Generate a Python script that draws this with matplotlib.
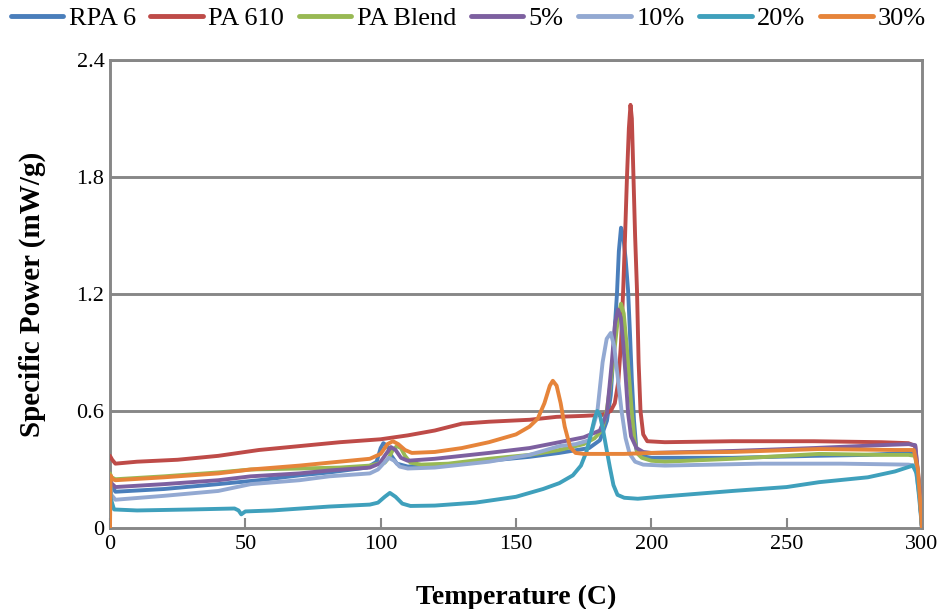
import matplotlib
matplotlib.use("Agg")
import matplotlib.pyplot as plt

# ---------------- data ----------------
series_names = ["RPA 6", "PA 610", "PA Blend", "5%", "10%", "20%", "30%"]

rpa6_T = [0, 0.5, 2, 20, 40, 55, 70, 81, 95, 98.5, 100, 101, 102.5, 104, 106, 110, 120, 140,
          155, 166, 177, 181, 183.6, 185, 185.8, 186.6, 187.3, 188, 188.8, 189.6, 190.5, 191.4,
          192.1, 192.8, 193.6, 194.5, 196, 200, 230, 260, 280, 295, 297.5, 299, 300]
rpa6_P = [0.27, 0.22, 0.186, 0.2, 0.225, 0.245, 0.27, 0.285, 0.31, 0.34, 0.41, 0.435, 0.42, 0.37,
          0.33, 0.315, 0.32, 0.345, 0.365, 0.385, 0.41, 0.45, 0.55, 0.68, 0.85, 1.05, 1.2, 1.42,
          1.54, 1.5, 1.38, 1.22, 1.0, 0.76, 0.55, 0.4, 0.37, 0.36, 0.36, 0.37, 0.375, 0.385, 0.38,
          0.2, 0.0]

pa610_T = [0, 0.8, 2, 10, 25, 40, 55, 70, 85, 100, 110, 120, 130, 140, 155, 165, 175, 182, 185,
           186.5, 187.8, 188.8, 189.6, 190.3, 191, 191.7, 192.3, 192.8, 193.3, 194, 194.7, 195.3,
           196, 197, 198.5, 205, 230, 260, 285, 295, 297.5, 299, 300]
pa610_P = [0.37, 0.35, 0.33, 0.34, 0.35, 0.37, 0.40, 0.42, 0.44, 0.455, 0.475, 0.50, 0.535, 0.545,
           0.555, 0.57, 0.575, 0.58, 0.6, 0.64, 0.75, 0.95, 1.22, 1.5, 1.8, 2.05, 2.17, 2.1, 1.85,
           1.5, 1.22, 0.85, 0.6, 0.48, 0.445, 0.44, 0.445, 0.445, 0.44, 0.435, 0.42, 0.2, 0.0]

blend_T = [0, 0.5, 2, 20, 40, 52, 70, 85, 96, 99, 101.5, 103, 104.5, 106, 107.5, 109, 111, 115,
           125, 140, 155, 166, 175, 179, 181.7, 183.5, 185, 186.5, 187.7, 188.8, 189.8, 190.8,
           191.8, 192.8, 193.8, 195, 196.5, 200, 205, 230, 262, 285, 295, 297.5, 299, 300]
blend_P = [0.28, 0.26, 0.25, 0.265, 0.285, 0.30, 0.305, 0.31, 0.32, 0.33, 0.335, 0.36, 0.40, 0.42,
           0.41, 0.37, 0.335, 0.325, 0.33, 0.355, 0.375, 0.40, 0.43, 0.46, 0.5, 0.6, 0.75, 0.93,
           1.08, 1.15, 1.1, 0.95, 0.77, 0.59, 0.45, 0.38, 0.36, 0.345, 0.34, 0.355, 0.38, 0.375,
           0.375, 0.37, 0.2, 0.0]

p5_T = [0, 0.5, 2, 20, 40, 52, 70, 81, 96, 99.5, 101.5, 103.8, 105.5, 107.5, 110, 120, 140, 155,
        166, 175, 181, 183.6, 185.4, 186.6, 187.7, 188.7, 189.6, 190.5, 191.4, 192.5, 194.5, 197,
        200, 230, 260, 285, 295, 297.5, 299, 300]
p5_P = [0.25, 0.23, 0.21, 0.225, 0.245, 0.265, 0.28, 0.295, 0.31, 0.33, 0.37, 0.415, 0.40, 0.36,
        0.345, 0.355, 0.385, 0.41, 0.44, 0.465, 0.5, 0.59, 0.85, 1.05, 1.12, 1.08, 0.95, 0.78,
        0.59, 0.47, 0.41, 0.39, 0.385, 0.395, 0.41, 0.425, 0.43, 0.425, 0.22, 0.0]

p10_T = [0, 0.5, 2, 20, 40, 52, 70, 81, 96, 99, 101, 103, 105, 107, 110, 120, 140, 155, 166, 172,
         177, 180, 182, 183.5, 185, 186.3, 187.7, 189, 190.5, 192, 194, 197, 205, 240, 270, 295,
         297.5, 299, 300]
p10_P = [0.22, 0.17, 0.145, 0.165, 0.19, 0.225, 0.245, 0.265, 0.28, 0.30, 0.33, 0.36, 0.345, 0.315,
         0.305, 0.31, 0.34, 0.375, 0.42, 0.43, 0.45, 0.59, 0.85, 0.97, 1.0, 0.93, 0.76, 0.6, 0.46,
         0.38, 0.34, 0.325, 0.32, 0.33, 0.33, 0.325, 0.32, 0.17, 0.0]

p20_T = [0, 0.3, 1.5, 10, 30, 46, 47.5, 48.5, 50, 60, 81, 96, 99, 101.5, 103.4, 105.5, 108, 111,
         120, 135, 150, 160, 166, 171, 174, 176, 177.5, 179, 180, 181, 182.2, 183.5, 184.7, 186,
         187.5, 190, 195, 203, 230, 250, 262, 280, 290, 296.6, 298, 299, 300]
p20_P = [0.25, 0.15, 0.095, 0.09, 0.095, 0.1, 0.09, 0.07, 0.085, 0.09, 0.11, 0.12, 0.13, 0.16, 0.18,
         0.16, 0.125, 0.113, 0.115, 0.13, 0.16, 0.2, 0.23, 0.27, 0.32, 0.39, 0.47, 0.56, 0.6, 0.58,
         0.5, 0.4, 0.31, 0.22, 0.17, 0.155, 0.15, 0.16, 0.19, 0.21, 0.235, 0.26, 0.29, 0.32, 0.28,
         0.15, 0.0]

p30_T = [0, 0.2, 1, 2, 20, 40, 52, 70, 81, 96, 100, 102.5, 104.5, 106.5, 109, 111.5, 120, 130, 140,
         150, 155, 158, 160.5, 162.5, 163.6, 165, 166.5, 168, 170, 172, 175, 190, 200, 230, 262,
         290, 297, 298.5, 300]
p30_P = [0.0, 0.27, 0.25, 0.245, 0.26, 0.28, 0.30, 0.32, 0.335, 0.355, 0.38, 0.43, 0.445, 0.43,
         0.40, 0.385, 0.39, 0.41, 0.44, 0.48, 0.52, 0.56, 0.64, 0.73, 0.755, 0.73, 0.64, 0.52,
         0.415, 0.385, 0.38, 0.38, 0.385, 0.39, 0.405, 0.40, 0.40, 0.3, 0.0]

series_T = [rpa6_T, pa610_T, blend_T, p5_T, p10_T, p20_T, p30_T]
series_P = [rpa6_P, pa610_P, blend_P, p5_P, p10_P, p20_P, p30_P]
colors = ["#4A7EBB", "#BE4B48", "#98B954", "#7D60A0", "#93A9D2", "#3FA0BC", "#E6843A"]

x_ticks = [0, 50, 100, 150, 200, 250, 300]
y_ticks = [0, 0.6, 1.2, 1.8, 2.4]
y_tick_labels = ["0", "0.6", "1.2", "1.8", "2.4"]

# ---------------- figure ----------------
serif = ["Liberation Serif", "DejaVu Serif"]
fig = plt.figure(figsize=(9.48, 6.09), dpi=100)
ax = fig.add_axes([110 / 948, 81 / 609, 812 / 948, 468 / 609])

grid_c = "#878787"
for yv in y_ticks[1:]:
    ax.axhline(yv, color=grid_c, lw=2.1, zorder=1)

handles = []
for T, P, c, name in zip(series_T, series_P, colors, series_names):
    h, = ax.plot(T, P, color=c, lw=2.8, solid_joinstyle="round", solid_capstyle="round",
                 label=name, zorder=3)
    handles.append(h)

ax.set_xlim(0, 300)
ax.set_ylim(0, 2.4)
ax.set_xticks(x_ticks)
ax.set_yticks(y_ticks)
ax.set_yticklabels(y_tick_labels)
for s in ax.spines.values():
    s.set_color(grid_c)
    s.set_linewidth(2.1)
ax.tick_params(axis="x", direction="in", length=7, width=1.5, color=grid_c, pad=5,
               labelsize=16)
ax.tick_params(axis="y", length=0, pad=4, labelsize=16)
for lab in ax.get_xticklabels() + ax.get_yticklabels():
    lab.set_family(serif)

ax.set_xlabel("Temperature (C)", family=serif, fontweight="bold", fontsize=20, labelpad=22)
ax.set_ylabel("Specific Power (mW/g)", family=serif, fontweight="bold", fontsize=21, labelpad=22)

leg = fig.legend(handles=handles, labels=series_names, loc="upper center",
                 bbox_to_anchor=(0.494, 1.015), ncol=7, frameon=False,
                 prop={"family": serif, "size": 19}, handlelength=2.0, handletextpad=0.2,
                 columnspacing=0.55, borderaxespad=0.2)
for l in leg.get_lines():
    l.set_linewidth(3.5)

fig.savefig("out.png", dpi=100)
